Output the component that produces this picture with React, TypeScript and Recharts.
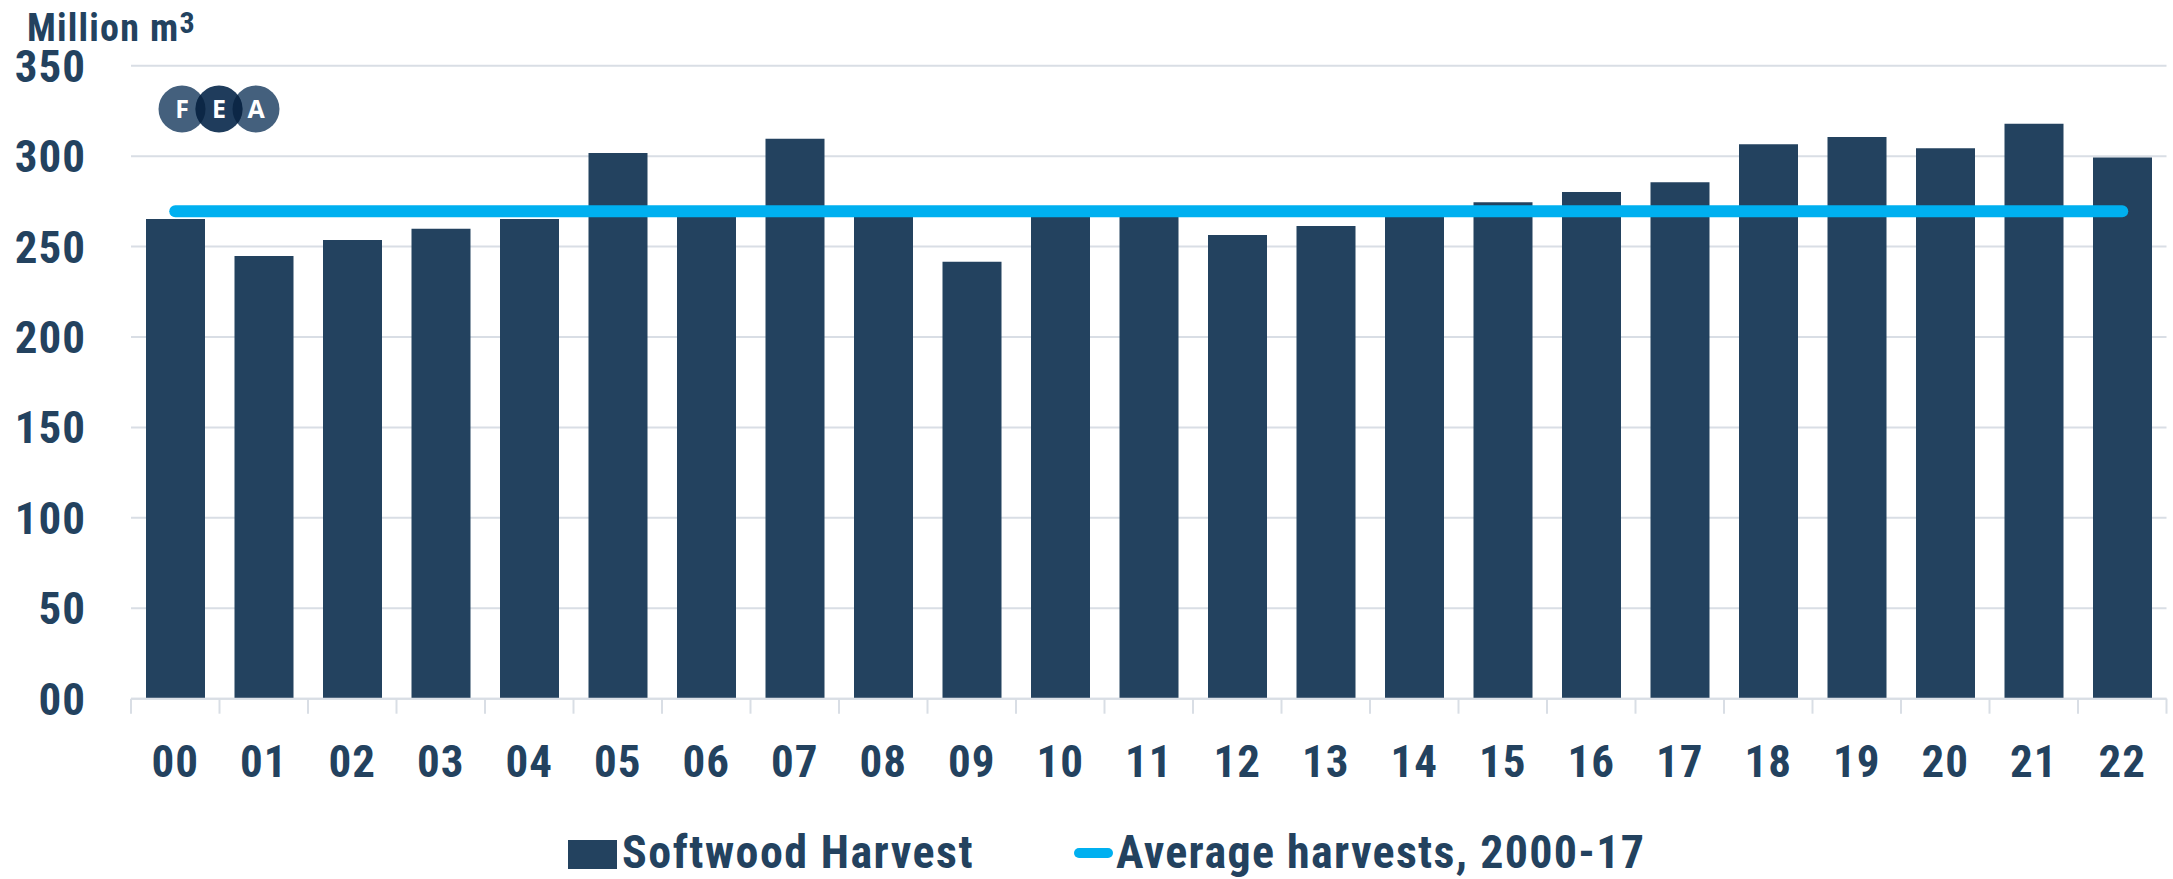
import {
  ComposedChart,
  Bar,
  Line,
  XAxis,
  YAxis,
  CartesianGrid,
  Legend,
} from "recharts";

// Harvest volumes, million m3, 2000-2022
const years = [
  "00", "01", "02", "03", "04", "05", "06", "07", "08", "09", "10", "11",
  "12", "13", "14", "15", "16", "17", "18", "19", "20", "21", "22",
];
const softwoodHarvest = [
  265.2, 244.8, 253.6, 259.9, 265.2, 301.7, 270.0, 309.6, 271.0, 241.6, 268.0,
  270.0, 256.4, 261.4, 271.0, 274.5, 280.2, 285.5, 306.5, 310.6, 304.3, 317.9,
  299.3,
];
// average of 2000-17, drawn flat across all years
const averageHarvest = 269.5;
const yTicks = [0, 50, 100, 150, 200, 250, 300, 350];

const NAVY = "#23425f";
const CYAN = "#00b0f0";
const GRID = "#d9dee5";
const FONT = '"Roboto Condensed", "Liberation Sans Narrow", "Open Sans", sans-serif';
const TICK_SIZE = 45;
const TICK_SPACING = 1;
const LEGEND_SIZE = 46;

const data = years.map((year, i) => ({
  year,
  harvest: softwoodHarvest[i],
  average: averageHarvest,
}));

function YearTick(props: any) {
  const { x, y, payload, index } = props;
  const half = payload.offset || 44.25;
  return (
    <g>
      <line x1={x - half} x2={x - half} y1={y} y2={y + 15} stroke={GRID} strokeWidth={2} />
      {index === years.length - 1 && (
        <line x1={x + half} x2={x + half} y1={y} y2={y + 15} stroke={GRID} strokeWidth={2} />
      )}
      <text
        x={x}
        y={y + 78}
        textAnchor="middle"
        fill={NAVY}
        fontSize={TICK_SIZE}
        fontWeight={700}
        letterSpacing={TICK_SPACING}
      >
        {payload.value}
      </text>
    </g>
  );
}

function HarvestLegend() {
  return (
    <svg width={1200} height={52} style={{ display: "block", overflow: "visible" }}>
      <rect x={0} y={14} width={49} height={29} fill={NAVY} />
      <text x={54} y={42} fill={NAVY} fontSize={LEGEND_SIZE} fontWeight={700} letterSpacing={1.5}>
        Softwood Harvest
      </text>
      <line x1={511} x2={540} y1={27} y2={27} stroke={CYAN} strokeWidth={10} strokeLinecap="round" />
      <text x={548} y={42} fill={NAVY} fontSize={LEGEND_SIZE} fontWeight={700} letterSpacing={1.3}>
        Average harvests, 2000-17
      </text>
    </svg>
  );
}

function FeaLogo() {
  const r = 23.5;
  const cy = 109;
  const cx = [182, 219, 256];
  return (
    <svg
      width={300}
      height={160}
      style={{ position: "absolute", left: 0, top: 0 }}
    >
      <defs>
        <clipPath id="clipE">
          <circle cx={cx[1]} cy={cy} r={r} />
        </clipPath>
      </defs>
      <circle cx={cx[0]} cy={cy} r={r} fill="#44607d" />
      <circle cx={cx[2]} cy={cy} r={r} fill="#44607d" />
      <circle cx={cx[1]} cy={cy} r={r} fill="#1f3c5c" />
      <g clipPath="url(#clipE)">
        <circle cx={cx[0]} cy={cy} r={r} fill="#0c2746" />
        <circle cx={cx[2]} cy={cy} r={r} fill="#0c2746" />
      </g>
      {["F", "E", "A"].map((ch, i) => (
        <text
          key={ch}
          x={cx[i]}
          y={cy + 9}
          textAnchor="middle"
          fill="#ffffff"
          fontSize={25}
          fontWeight={700}
          fontFamily='"Open Sans", sans-serif'
        >
          {ch}
        </text>
      ))}
    </svg>
  );
}

export default function App() {
  return (
    <div
      style={{
        position: "absolute",
        left: 0,
        top: 0,
        width: 2173,
        height: 879,
        background: "#ffffff",
        fontFamily: FONT,
        overflow: "hidden",
      }}
    >
      <ComposedChart
        width={2173}
        height={879}
        data={data}
        margin={{ top: 65.7, right: 6.5, bottom: 0.3, left: 0 }}
        barSize={59}
      >
        <CartesianGrid vertical={false} stroke={GRID} strokeWidth={2} />
        <XAxis
          dataKey="year"
          height={180}
          interval={0}
          tickLine={false}
          tickSize={0}
          tickMargin={0}
          axisLine={{ stroke: GRID, strokeWidth: 2 }}
          tick={<YearTick />}
        />
        <YAxis
          width={131}
          domain={[0, 350]}
          ticks={yTicks}
          interval={0}
          axisLine={false}
          tickLine={false}
          tickSize={0}
          tickMargin={45}
          tickFormatter={(v: number) => (v === 0 ? "00" : String(v))}
          tick={{
            fill: NAVY,
            fontSize: TICK_SIZE,
            fontWeight: 700,
            letterSpacing: TICK_SPACING,
          }}
        />
        <Bar
          dataKey="harvest"
          name="Softwood Harvest"
          fill={NAVY}
          isAnimationActive={false}
        />
        <Line
          dataKey="average"
          name="Average harvests, 2000-17"
          stroke={CYAN}
          strokeWidth={12}
          strokeLinecap="round"
          dot={false}
          activeDot={false}
          isAnimationActive={false}
        />
        <Legend
          layout="horizontal"
          verticalAlign="middle"
          align="center"
          wrapperStyle={{ top: 826, left: 568, width: 1200, height: 52 }}
          content={<HarvestLegend />}
        />
      </ComposedChart>
      <div
        style={{
          position: "absolute",
          left: 27,
          top: 7,
          fontSize: 38,
          fontWeight: 700,
          letterSpacing: 1.2,
          color: NAVY,
          lineHeight: "32px",
          whiteSpace: "nowrap",
        }}
      >
        Million m<span style={{ fontSize: 30, verticalAlign: "8px" }}>3</span>
      </div>
      <FeaLogo />
    </div>
  );
}
